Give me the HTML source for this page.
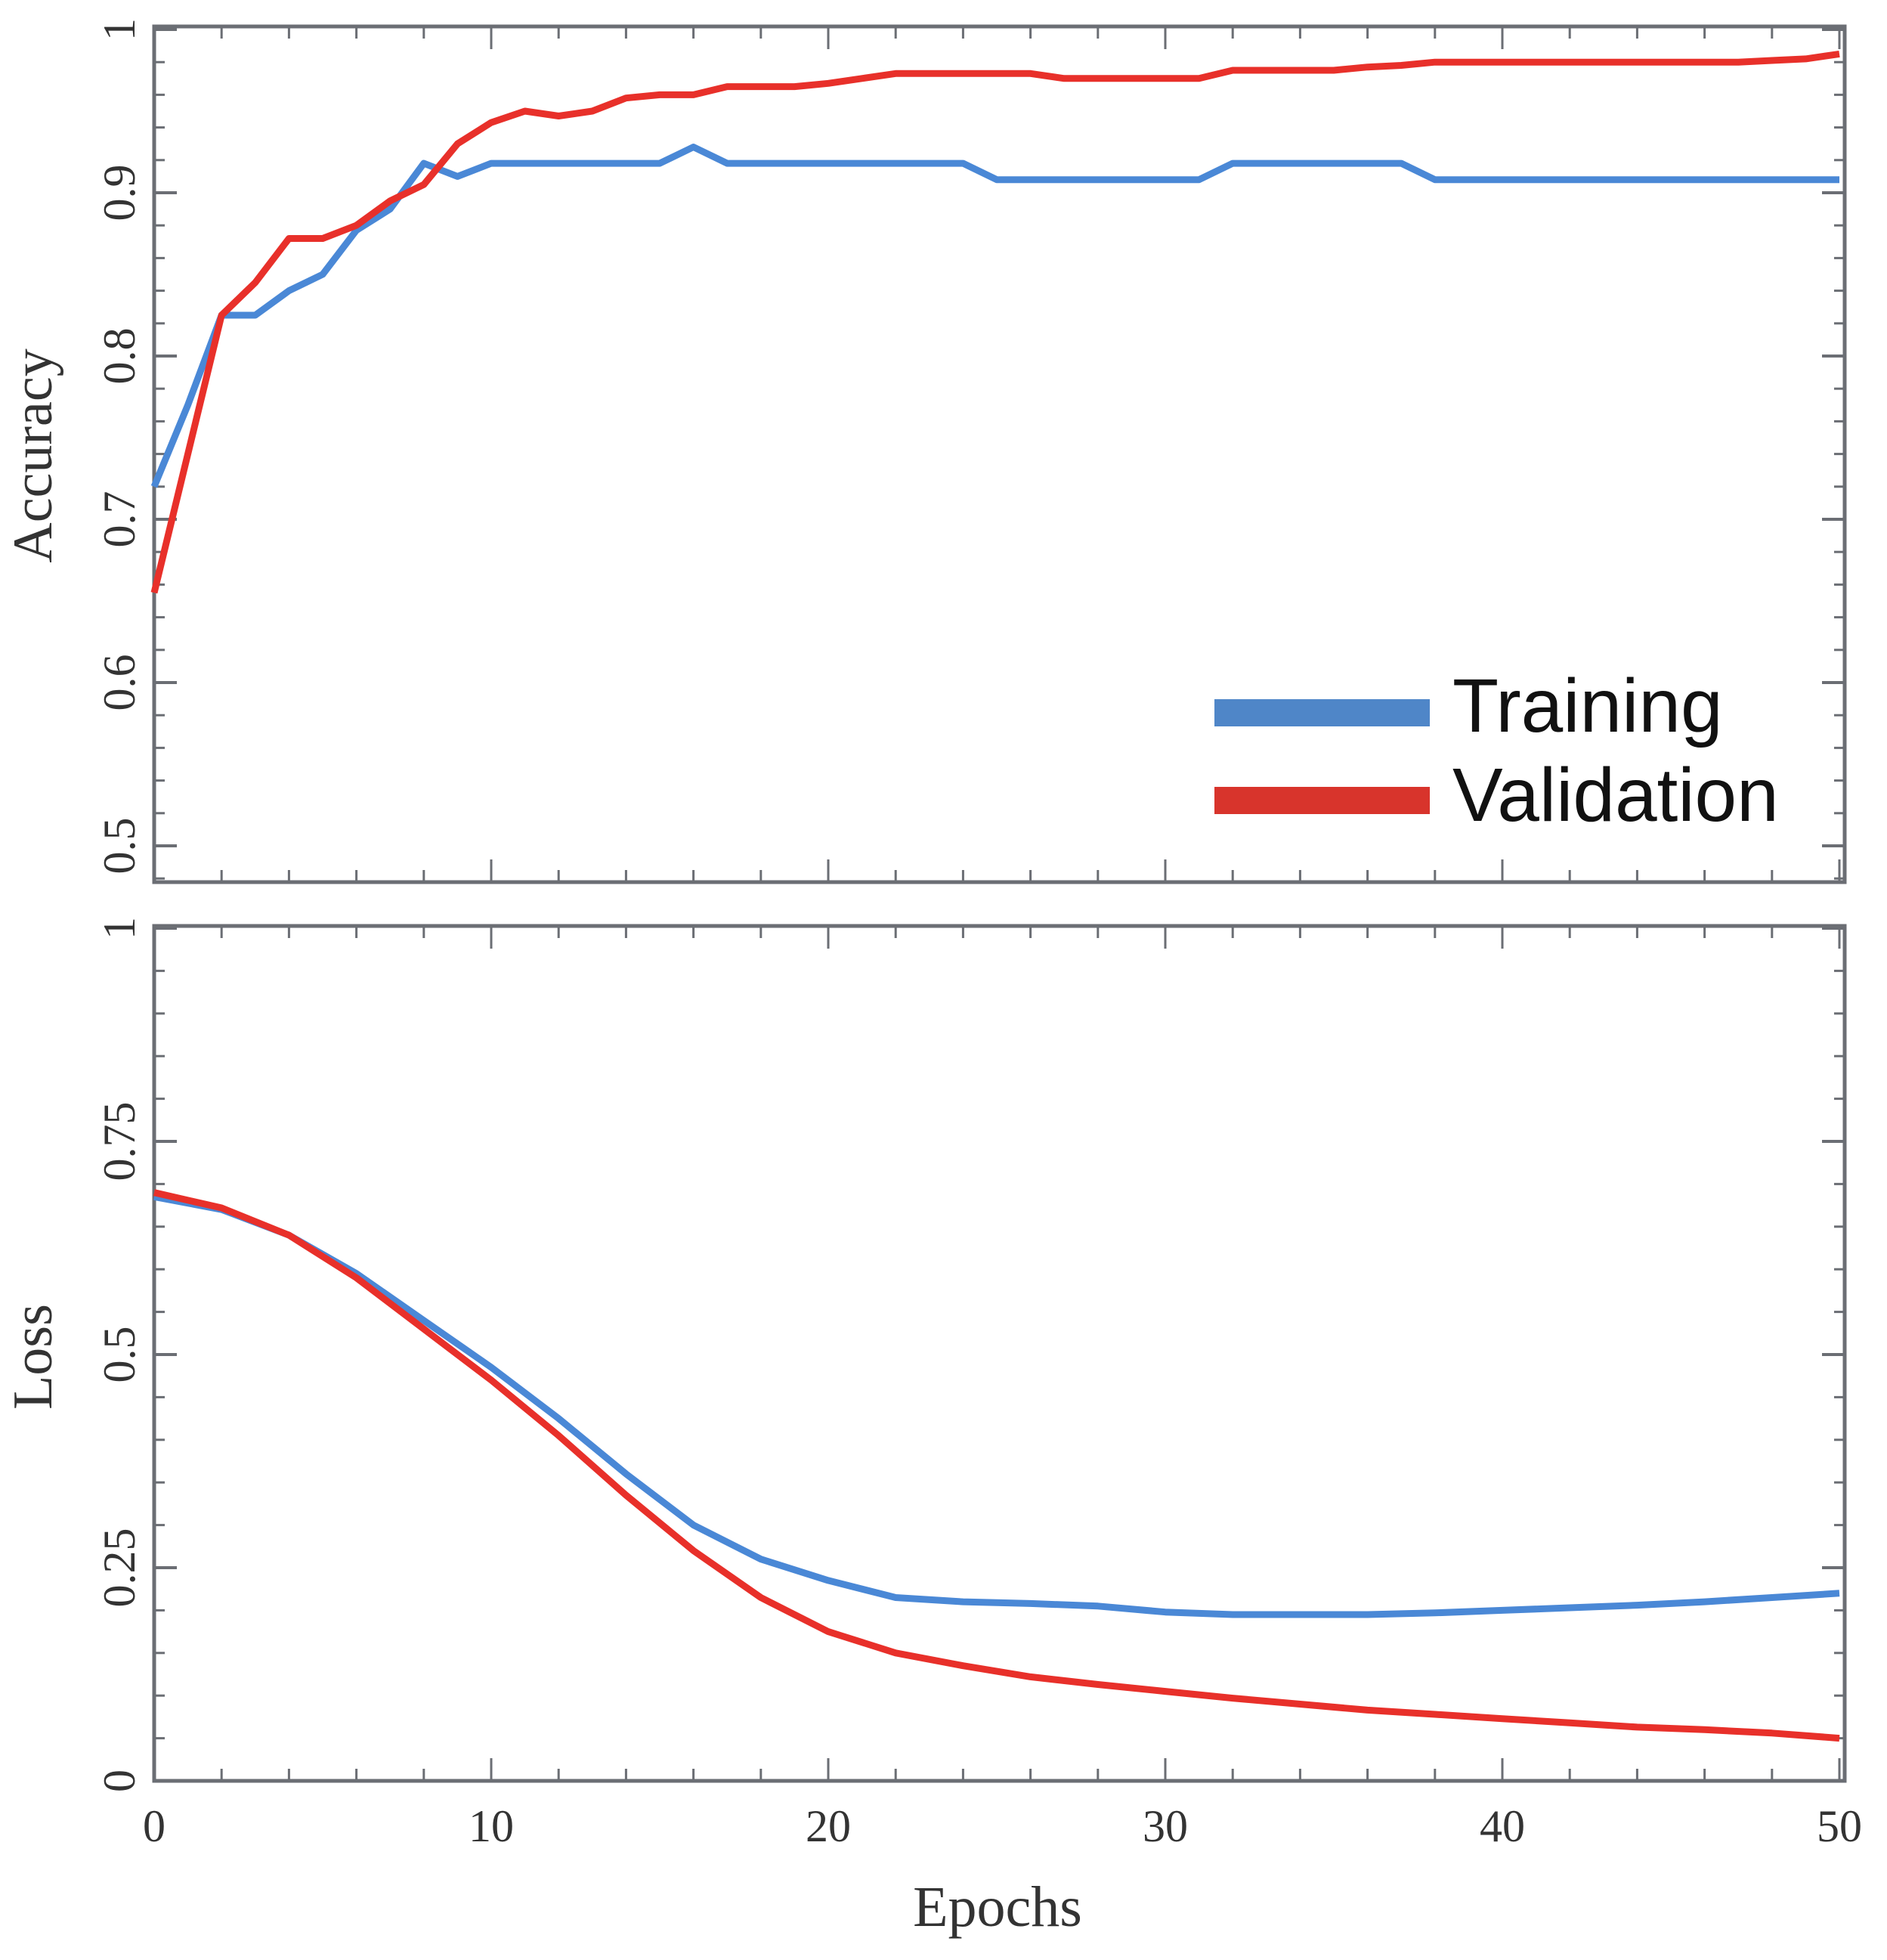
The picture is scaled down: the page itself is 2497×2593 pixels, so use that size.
<!DOCTYPE html>
<html><head><meta charset="utf-8"><style>
html,body{margin:0;padding:0;background:#fff;}
svg{display:block;}
</style></head><body>
<svg id="chart" width="2497" height="2593" viewBox="0 0 2497 2593" xmlns="http://www.w3.org/2000/svg"></svg>
<script>
const accEpochs = [0,1,2,3,4,5,6,7,8,9,10,11,12,13,14,15,16,17,18,19,20,21,22,23,24,25,26,27,28,29,30,31,32,33,34,35,36,37,38,39,40,41,42,43,44,45,46,47,48,49,50];
const accTraining = [0.72,0.77,0.825,0.825,0.84,0.85,0.877,0.89,0.918,0.91,0.918,0.918,0.918,0.918,0.918,0.918,0.928,0.918,0.918,0.918,0.918,0.918,0.918,0.918,0.918,0.908,0.908,0.908,0.908,0.908,0.908,0.908,0.918,0.918,0.918,0.918,0.918,0.918,0.908,0.908,0.908,0.908,0.908,0.908,0.908,0.908,0.908,0.908,0.908,0.908,0.908];
const accValidation = [0.655,0.74,0.825,0.845,0.872,0.872,0.88,0.895,0.905,0.93,0.943,0.95,0.947,0.95,0.958,0.96,0.96,0.965,0.965,0.965,0.967,0.97,0.973,0.973,0.973,0.973,0.973,0.97,0.97,0.97,0.97,0.97,0.975,0.975,0.975,0.975,0.977,0.978,0.98,0.98,0.98,0.98,0.98,0.98,0.98,0.98,0.98,0.98,0.981,0.982,0.985];
const lossEpochs = [0,2,4,6,8,10,12,14,16,18,20,22,24,26,28,30,32,34,36,38,40,42,44,46,48,50];
const lossTraining = [0.685,0.67,0.64,0.595,0.54,0.485,0.425,0.36,0.3,0.26,0.235,0.215,0.21,0.208,0.205,0.198,0.195,0.195,0.195,0.197,0.2,0.203,0.206,0.21,0.215,0.22];
const lossValidation = [0.69,0.672,0.64,0.59,0.53,0.47,0.405,0.335,0.27,0.215,0.175,0.15,0.135,0.122,0.113,0.105,0.097,0.09,0.083,0.078,0.073,0.068,0.063,0.06,0.056,0.05];
const xTickLabels = ['0','10','20','30','40','50'];
const accTickLabels = ['0.5','0.6','0.7','0.8','0.9','1'];
const lossTickLabels = ['0','0.25','0.5','0.75','1'];

const NS='http://www.w3.org/2000/svg';
const svg=document.getElementById('chart');
function mk(tag,attrs,parent){const e=document.createElementNS(NS,tag);for(const k in attrs)e.setAttribute(k,attrs[k]);(parent||svg).appendChild(e);return e;}

const X0=204,X1=2434,FR=2441;
const xScale=v=>X0+(X1-X0)*v/50;
const accY=v=>39+(1-v)*2160;
const lossY=v=>2356-v*1128;
const panels=[
 {top:35,bot:1167,y:accY,max:1,major:accTickLabels,minorStep:0.02,minorStart:0.48,name:'accuracy'},
 {top:1225,bot:2356,y:lossY,max:1,major:lossTickLabels,minorStep:0.05,minorStart:0,name:'loss'}
];
const axisCol='#6b6e74';
panels.forEach(p=>{
  const g=mk('g',{});
  
  
  mk('rect',{x:X0,y:p.top,width:FR-X0,height:p.bot-p.top,fill:'none',stroke:axisCol,'stroke-width':5},g);
  for(let e=0;e<=50;e+=2){
    const x=xScale(e);const maj=e%10===0;const L=maj?30:16;
    mk('line',{x1:x,x2:x,y1:p.bot,y2:p.bot-L,stroke:axisCol,'stroke-width':3},g);
    mk('line',{x1:x,x2:x,y1:p.top,y2:p.top+L,stroke:axisCol,'stroke-width':3},g);
  }
  for(let v=p.minorStart;v<=p.max+1e-9;v+=p.minorStep){
    const y=p.y(v);
    mk('line',{x1:X0,x2:X0+14,y1:y,y2:y,stroke:axisCol,'stroke-width':3},g);
    mk('line',{x1:FR,x2:FR-14,y1:y,y2:y,stroke:axisCol,'stroke-width':3},g);
  }
  p.major.forEach(lbl=>{
    const y=p.y(parseFloat(lbl));
    mk('line',{x1:X0,x2:X0+30,y1:y,y2:y,stroke:axisCol,'stroke-width':4},g);
    mk('line',{x1:FR,x2:FR-30,y1:y,y2:y,stroke:axisCol,'stroke-width':4},g);
    const t=mk('text',{x:0,y:0,transform:`translate(178,${y}) rotate(-90)`,'text-anchor':'middle','font-family':'Liberation Serif, serif','font-size':60,fill:'#333'},g);
    
    
    t.textContent=lbl;
  });
});
xTickLabels.forEach(lbl=>{
  const t=mk('text',{x:xScale(parseFloat(lbl)),y:2436,'text-anchor':'middle','font-family':'Liberation Serif, serif','font-size':60,fill:'#333'});
  
  
  t.textContent=lbl;
});
function series(xs,ys,yf,color,name){
  const pts=xs.map((e,i)=>xScale(e).toFixed(1)+','+yf(ys[i]).toFixed(1)).join(' ');
  const l=mk('polyline',{points:pts,fill:'none',stroke:color,'stroke-width':9,'stroke-linejoin':'round'});
  
  
}
const BLUE='#4a88d6',RED='#e8302a';
series(accEpochs,accTraining,accY,BLUE,'accuracy-training-line');
series(accEpochs,accValidation,accY,RED,'accuracy-validation-line');
series(lossEpochs,lossTraining,lossY,BLUE,'loss-training-line');
series(lossEpochs,lossValidation,lossY,RED,'loss-validation-line');

let t=mk('text',{transform:'translate(68,603) rotate(-90)','text-anchor':'middle','font-family':'Liberation Serif, serif','font-size':74,fill:'#333'});
t.textContent='Accuracy';
t=mk('text',{transform:'translate(68,1795) rotate(-90)','text-anchor':'middle','font-family':'Liberation Serif, serif','font-size':74,fill:'#333'});
t.textContent='Loss';
t=mk('text',{x:1320,y:2548,'text-anchor':'middle','font-family':'Liberation Serif, serif','font-size':76,fill:'#333'});
t.textContent='Epochs';

const lg=mk('g',{});

mk('rect',{x:1607,y:925,width:285,height:36,fill:'#4f86c8'},lg);
mk('rect',{x:1607,y:1041,width:285,height:36,fill:'#d8342c'},lg);
t=mk('text',{x:1922,y:968,'font-family':'Liberation Sans, sans-serif','font-size':100,fill:'#111'},lg);
t.textContent='Training';
t=mk('text',{x:1922,y:1086,'font-family':'Liberation Sans, sans-serif','font-size':100,fill:'#111'},lg);
t.textContent='Validation';
</script>
</body></html>
